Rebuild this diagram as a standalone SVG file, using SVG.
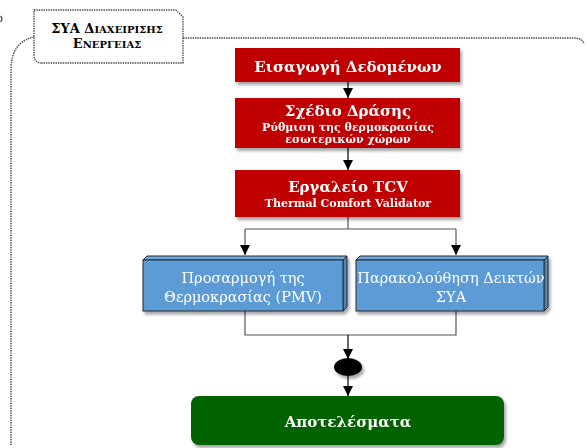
<svg xmlns="http://www.w3.org/2000/svg" width="587" height="448" viewBox="0 0 587 448">
  <defs>
    <filter id="shadow" x="-10%" y="-20%" width="130%" height="150%">
      <feDropShadow dx="2" dy="3" stdDeviation="1.5" flood-color="#000" flood-opacity="0.35"/>
    </filter>
    <marker id="arrow" viewBox="0 0 10 10" refX="10" refY="5" markerWidth="10" markerHeight="10" markerUnits="userSpaceOnUse" orient="auto">
      <path d="M0,0 L10,5 L0,10 Z" fill="#000"/>
    </marker>
    <style>
      .frame { fill: none; stroke: #444; stroke-width: 1.4; stroke-dasharray: 1.4 1; }
      .red { fill: #C00000; }
      .txt { font-family: "DejaVu Serif", "Liberation Serif", serif; fill: #fff; text-anchor: middle; }
      .b { font-weight: bold; }
      .front { fill: #5B9BD5; stroke: #2a2a2a; stroke-width: 1; }
      .top { fill: #6EA8DC; stroke: #2a2a2a; stroke-width: 1; }
      .side { fill: #4A86BE; stroke: #2a2a2a; stroke-width: 1; }
      .conn { fill: none; stroke: #555; stroke-width: 1.2; }
      .connk { fill: none; stroke: #000; stroke-width: 1.2; }
      .title { font-family: "DejaVu Serif", "Liberation Serif", serif; font-weight: bold; fill: #000; text-anchor: middle; }
    </style>
  </defs>

  <!-- partially visible element at the left edge -->
  <path d="M0.5,16 Q3.5,19 0.5,22" fill="none" stroke="#444" stroke-width="1.2"/>

  <!-- outer swimlane frame -->
  <g id="frame">
    <path class="frame" d="M34,37 Q11,42 11,70 L11,446"/>
    <path class="frame" d="M183,38 L576,38 Q583,39 584,44"/>
    <path class="frame" d="M42,63 Q34,63 34,55 L34,10 L176,10 L183,17 L183,63 Z" fill="#fff"/>
    <text class="title" x="107" y="33"><tspan font-size="13">ΣΥΑ Δ</tspan><tspan font-size="10">ΙΑΧΕΙΡΙΣΗΣ</tspan></text>
    <text class="title" x="107" y="48"><tspan font-size="13">Ε</tspan><tspan font-size="10">ΝΕΡΓΕΙΑΣ</tspan></text>
  </g>

  <!-- connectors -->
  <g id="connectors">
    <line class="connk" x1="348" y1="82" x2="348" y2="98" marker-end="url(#arrow)"/>
    <line class="connk" x1="348" y1="148" x2="348" y2="170" marker-end="url(#arrow)"/>
    <path class="conn" d="M348,217 L348,229 M245,229 L456,229"/>
    <line class="conn" x1="245" y1="229" x2="245" y2="255" marker-end="url(#arrow)"/>
    <line class="conn" x1="456" y1="229" x2="456" y2="255" marker-end="url(#arrow)"/>
    <path class="conn" d="M245,311 L245,335 L456,335 L456,311"/>
    <line class="connk" x1="348" y1="335" x2="348" y2="359" marker-end="url(#arrow)"/>
    <line class="connk" x1="348" y1="375" x2="348" y2="396" marker-end="url(#arrow)"/>
  </g>

  <g id="input" filter="url(#shadow)">
    <rect class="red" x="235" y="48" width="225" height="34"/>
    <text class="txt b" x="348" y="72" font-size="15">Εισαγωγή Δεδομένων</text>
  </g>

  <g id="action-plan" filter="url(#shadow)">
    <rect class="red" x="235" y="98" width="225" height="50"/>
    <text class="txt b" x="348" y="116" font-size="15">Σχέδιο Δράσης</text>
    <text class="txt b" x="348" y="131" font-size="11">Ρύθμιση της θερμοκρασίας</text>
    <text class="txt b" x="348" y="143" font-size="11">εσωτερικών χώρων</text>
  </g>

  <g id="tcv-tool" filter="url(#shadow)">
    <rect class="red" x="235" y="170" width="225" height="47"/>
    <text class="txt b" x="348" y="192" font-size="15">Εργαλείο TCV</text>
    <text class="txt b" x="348" y="207" font-size="11">Thermal Comfort Validator</text>
  </g>

  <g id="pmv-adjust" filter="url(#shadow)">
    <polygon class="top" points="143,260 147,256 347,256 343,260"/>
    <polygon class="side" points="343,260 347,256 347,307 343,311"/>
    <rect class="front" x="143" y="260" width="200" height="51"/>
    <text class="txt" x="243" y="283" font-size="14.5">Προσαρμογή της</text>
    <text class="txt" x="243" y="302" font-size="14.5">Θερμοκρασίας (PMV)</text>
  </g>

  <g id="kpi-monitor" filter="url(#shadow)">
    <polygon class="top" points="356,260 360,256 548,256 544,260"/>
    <polygon class="side" points="544,260 548,256 548,307 544,311"/>
    <rect class="front" x="356" y="260" width="188" height="51"/>
    <text class="txt" x="451" y="283" font-size="14.5">Παρακολούθηση Δεικτών</text>
    <text class="txt" x="451" y="302" font-size="14.5">ΣΥΑ</text>
  </g>

  <g id="join" filter="url(#shadow)">
    <ellipse cx="348" cy="367" rx="14" ry="9" fill="#000"/>
  </g>

  <g id="results" filter="url(#shadow)">
    <rect x="191" y="396" width="313" height="49" rx="8" ry="8" fill="#006400"/>
    <text class="txt b" x="348" y="427" font-size="15">Αποτελέσματα</text>
  </g>
</svg>
